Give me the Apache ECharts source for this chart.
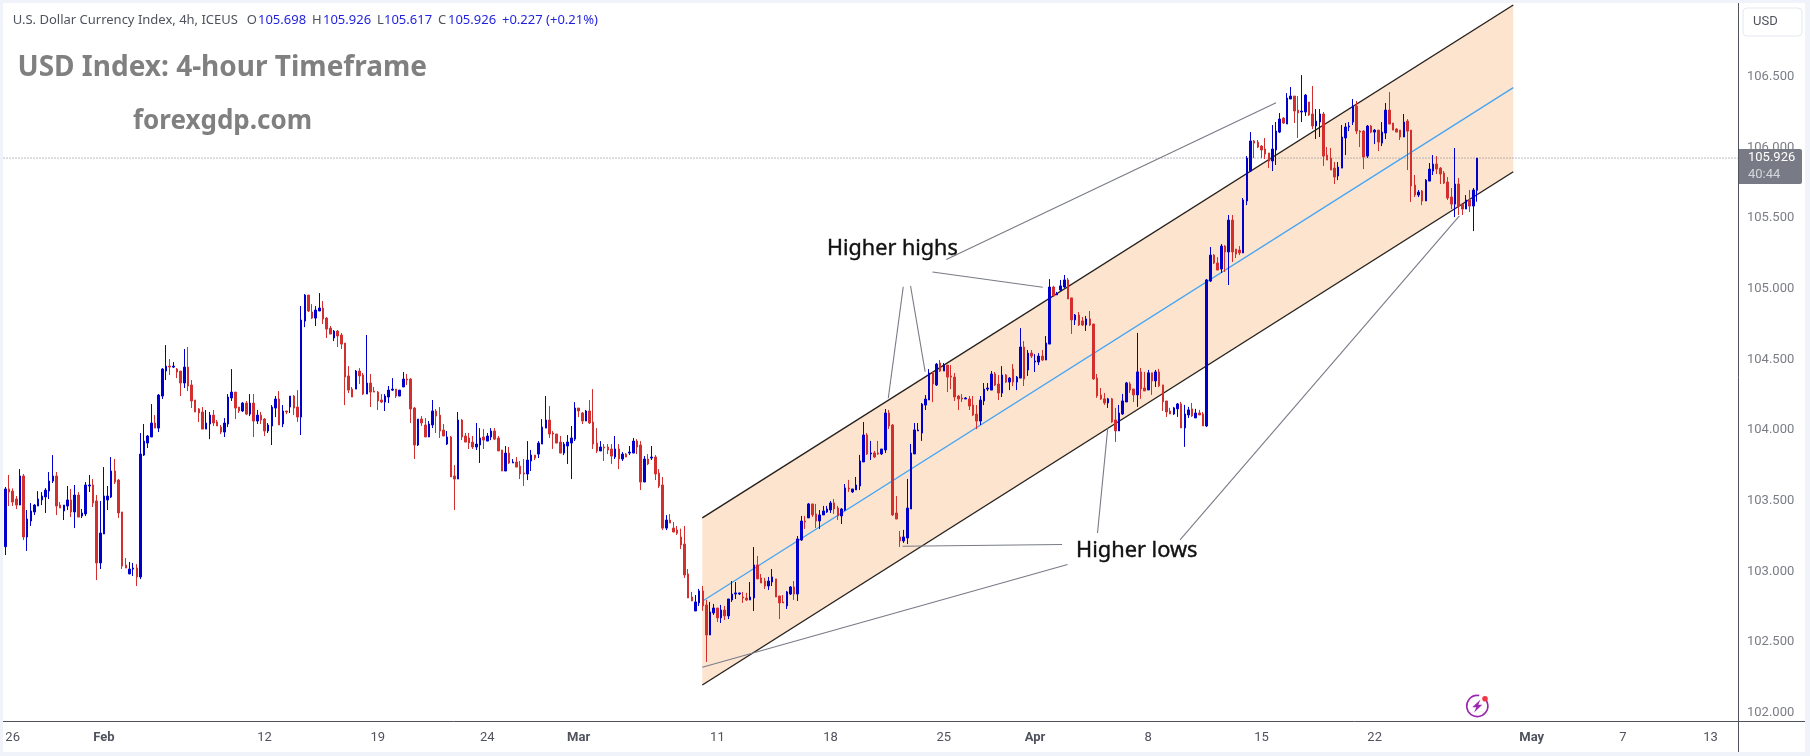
<!DOCTYPE html>
<html>
<head>
<meta charset="utf-8">
<title>USD Index 4-hour</title>
<style>
html,body{margin:0;padding:0;background:#fff;}
#chart{width:1810px;height:756px;}
</style>
<script src="https://cdn.jsdelivr.net/npm/echarts@6/dist/echarts.min.js"></script>
</head>
<body>
<div id="chart"></div>
<script>
// 4-hour candles of the U.S. Dollar Currency Index
const opens = [
103.174,103.583,103.568,103.512,103.469,103.675,103.243,103.356,103.420,103.462,
103.505,103.526,103.568,103.639,103.675,103.469,103.427,103.462,103.505,103.420,
103.540,103.391,103.406,103.604,103.611,103.498,103.059,103.264,103.505,103.526,
103.710,103.646,103.420,103.044,102.981,103.016,103.023,102.960,103.823,103.908,
103.951,104.050,104.014,104.241,104.418,104.453,104.446,104.432,104.418,104.333,
104.446,104.319,104.213,104.149,104.128,104.007,104.043,104.106,104.057,104.021,
103.986,104.043,104.227,104.269,104.163,104.135,104.191,104.113,104.191,104.064,
104.106,104.078,103.993,104.029,104.156,104.220,104.043,104.135,104.163,104.241,
104.163,104.092,104.772,104.956,104.836,104.793,104.843,104.864,104.793,104.722,
104.652,104.701,104.673,104.616,104.383,104.290,104.290,104.418,104.390,104.255,
104.333,104.276,104.269,104.213,104.198,104.234,104.283,104.290,104.241,104.305,
104.361,104.361,104.156,103.894,104.078,104.036,103.951,104.036,104.135,104.106,
104.000,103.901,103.951,103.675,103.653,104.071,103.958,103.944,103.915,103.880,
103.894,103.951,103.922,103.951,103.993,103.944,103.859,103.710,103.837,103.767,
103.774,103.745,103.696,103.689,103.781,103.823,103.830,103.901,104.014,104.071,
103.979,103.972,103.915,103.837,103.887,103.908,103.936,104.156,104.121,104.064,
104.135,104.057,103.908,103.852,103.880,103.880,103.866,103.809,103.866,103.795,
103.830,103.837,103.837,103.922,103.894,103.632,103.795,103.802,103.809,103.696,
103.611,103.306,103.363,103.306,103.292,103.243,103.193,102.981,102.818,102.719,
102.776,102.861,102.762,102.549,102.705,102.740,102.670,102.726,102.684,102.797,
102.839,102.839,102.818,102.811,102.797,102.811,103.045,102.953,102.931,102.896,
102.924,102.946,102.825,102.783,102.755,102.839,102.889,102.839,103.222,103.356,
103.378,103.477,103.406,103.356,103.399,103.420,103.434,103.484,103.448,103.392,
103.434,103.590,103.562,103.576,103.604,103.774,103.965,103.831,103.838,103.838,
103.831,103.859,104.121,104.036,103.413,103.243,103.215,103.236,103.441,103.831,
103.994,103.979,104.177,104.213,104.404,104.319,104.475,104.418,104.460,104.383,
104.375,104.241,104.227,104.220,104.220,104.177,104.113,104.064,104.206,104.290,
104.283,104.397,104.326,104.262,104.390,104.340,104.432,104.340,104.368,104.588,
104.425,104.545,104.482,104.482,104.524,104.496,104.609,105.013,104.957,104.992,
105.013,105.063,104.936,104.780,104.815,104.773,104.744,104.787,104.751,104.369,
104.249,104.221,104.192,104.221,104.072,103.994,104.114,104.199,104.327,104.291,
104.249,104.412,104.298,104.284,104.405,104.348,104.412,104.320,104.206,104.135,
104.114,104.150,104.185,104.015,104.107,104.150,104.086,104.121,104.114,104.029,
105.055,105.239,105.183,105.140,105.303,105.261,105.487,105.282,105.275,105.254,
105.622,105.834,106.047,106.039,106.011,105.990,105.962,105.905,105.983,106.110,
106.209,106.167,106.344,106.365,106.266,106.252,106.252,106.323,106.238,106.153,
106.181,106.238,105.947,105.926,105.855,105.799,105.855,106.068,106.146,106.181,
106.294,106.117,106.117,105.940,106.153,106.110,106.124,106.032,106.103,106.266,
106.174,106.131,106.124,106.075,106.188,106.124,105.735,105.664,105.693,105.622,
105.763,105.834,105.884,105.855,105.820,105.756,105.650,105.600,105.742,105.600,
105.565,105.629,105.586,105.698];
const closes = [
103.583,103.561,103.490,103.469,103.675,103.243,103.370,103.427,103.469,103.512,
103.533,103.575,103.639,103.675,103.462,103.448,103.469,103.505,103.420,103.540,
103.384,103.413,103.611,103.611,103.483,103.059,103.271,103.533,103.533,103.710,
103.632,103.413,103.037,103.023,103.016,103.023,102.960,103.830,103.922,103.958,
104.050,104.014,104.248,104.432,104.453,104.446,104.453,104.411,104.333,104.446,
104.312,104.206,104.128,104.121,104.007,104.050,104.106,104.050,104.029,103.986,
104.050,104.234,104.269,104.156,104.135,104.191,104.113,104.191,104.064,104.106,
104.071,103.993,104.036,104.163,104.220,104.036,104.135,104.128,104.241,104.156,
104.092,104.779,104.956,104.843,104.793,104.850,104.864,104.786,104.715,104.680,
104.701,104.666,104.609,104.375,104.283,104.234,104.418,104.383,104.255,104.333,
104.269,104.269,104.206,104.198,104.241,104.283,104.290,104.241,104.283,104.361,
104.354,104.149,103.894,104.078,104.050,103.951,104.043,104.135,104.099,103.993,
103.958,103.951,103.668,103.653,104.071,103.951,103.915,103.908,103.880,103.901,
103.944,103.929,103.958,103.993,103.936,103.852,103.710,103.837,103.767,103.774,
103.738,103.689,103.689,103.788,103.823,103.802,103.908,104.021,104.071,103.972,
103.972,103.908,103.837,103.901,103.915,103.944,104.156,104.135,104.064,104.135,
104.050,103.901,103.852,103.880,103.873,103.859,103.816,103.866,103.795,103.830,
103.809,103.844,103.922,103.880,103.632,103.795,103.760,103.809,103.689,103.604,
103.306,103.363,103.342,103.278,103.269,103.186,102.974,102.811,102.790,102.783,
102.861,102.755,102.549,102.712,102.740,102.670,102.726,102.684,102.804,102.839,
102.847,102.847,102.811,102.797,102.818,103.045,102.946,102.917,102.896,102.931,
102.960,102.818,102.776,102.776,102.854,102.889,102.839,103.229,103.356,103.349,
103.477,103.399,103.356,103.399,103.427,103.441,103.484,103.441,103.392,103.441,
103.590,103.583,103.583,103.611,103.781,103.965,103.831,103.838,103.809,103.831,
103.866,104.121,104.029,103.399,103.370,103.215,103.243,103.448,103.838,104.001,
104.001,104.184,104.220,104.404,104.326,104.467,104.418,104.460,104.375,104.375,
104.234,104.220,104.220,104.227,104.170,104.106,104.064,104.213,104.290,104.298,
104.397,104.319,104.262,104.390,104.340,104.368,104.340,104.375,104.588,104.361,
104.545,104.524,104.489,104.524,104.496,104.616,105.013,104.950,104.964,105.021,
105.063,104.928,104.780,104.815,104.744,104.744,104.787,104.744,104.362,104.242,
104.221,104.192,104.221,104.058,103.994,104.121,104.206,104.334,104.284,104.249,
104.412,104.291,104.277,104.405,104.348,104.412,104.313,104.199,104.128,104.114,
104.157,104.185,104.015,104.114,104.143,104.100,104.121,104.107,104.029,105.063,
105.239,105.183,105.133,105.303,105.261,105.487,105.261,105.246,105.254,105.629,
105.926,106.047,106.032,106.004,105.983,105.954,105.905,105.990,106.117,106.202,
106.174,106.351,106.365,106.259,106.245,106.259,106.372,106.231,106.153,106.188,
106.238,105.940,105.912,105.841,105.792,105.862,106.075,106.146,106.153,106.294,
106.117,106.110,105.933,106.153,106.110,106.124,106.039,106.110,106.266,106.167,
106.124,106.110,106.075,106.181,106.117,105.728,105.664,105.685,105.622,105.770,
105.848,105.884,105.848,105.813,105.749,105.643,105.600,105.742,105.586,105.565,
105.629,105.586,105.700,105.926];
const highs = [
103.597,103.682,103.587,103.533,103.724,103.689,103.434,103.483,103.476,103.568,
103.561,103.589,103.703,103.823,103.703,103.490,103.469,103.604,103.583,103.611,
103.561,103.441,103.632,103.682,103.653,103.540,103.498,103.738,103.604,103.809,
103.795,103.653,103.420,103.094,103.066,103.059,103.051,103.979,104.043,103.965,
104.184,104.106,104.255,104.439,104.602,104.503,104.482,104.439,104.418,104.574,
104.588,104.354,104.213,104.156,104.163,104.142,104.128,104.142,104.071,104.036,
104.085,104.255,104.432,104.269,104.163,104.198,104.206,104.255,104.255,104.142,
104.128,104.085,104.050,104.177,104.241,104.276,104.177,104.135,104.241,104.248,
104.283,104.878,104.963,104.956,104.892,104.878,104.970,104.914,104.800,104.737,
104.708,104.708,104.687,104.616,104.453,104.305,104.425,104.439,104.404,104.673,
104.397,104.305,104.276,104.255,104.255,104.312,104.368,104.290,104.283,104.411,
104.397,104.368,104.163,104.078,104.099,104.085,104.064,104.213,104.149,104.163,
104.043,103.993,103.958,103.752,104.128,104.078,103.979,103.979,103.958,104.050,
104.014,104.007,103.979,104.014,104.014,103.958,103.859,103.887,103.880,103.795,
103.809,103.781,103.795,103.922,103.859,103.823,103.922,104.078,104.241,104.170,
103.993,103.972,103.958,103.915,103.965,104.029,104.198,104.156,104.128,104.142,
104.213,104.290,104.014,103.922,103.901,103.901,103.901,103.958,103.901,103.844,
103.837,103.887,103.944,103.936,103.922,103.816,103.830,103.887,103.823,103.724,
103.668,103.398,103.405,103.349,103.321,103.302,103.321,103.016,102.854,102.832,
102.875,102.896,102.797,102.783,102.769,102.740,102.762,102.755,102.804,102.931,
102.924,102.847,102.854,102.847,102.924,103.172,103.108,102.981,102.953,102.960,
103.016,102.946,102.825,102.832,102.861,102.896,102.931,103.250,103.392,103.392,
103.484,103.477,103.477,103.434,103.463,103.463,103.498,103.512,103.463,103.448,
103.618,103.647,103.583,103.668,103.824,104.057,103.979,103.923,103.852,103.923,
103.866,104.149,104.142,104.043,103.533,103.286,103.293,103.654,103.902,104.050,
104.050,104.191,104.248,104.432,104.411,104.475,104.496,104.475,104.460,104.460,
104.404,104.248,104.255,104.234,104.241,104.241,104.177,104.241,104.333,104.333,
104.418,104.411,104.390,104.453,104.397,104.375,104.467,104.383,104.722,104.630,
104.567,104.567,104.538,104.545,104.567,104.666,105.069,105.021,104.978,105.063,
105.098,105.077,104.936,104.822,104.836,104.801,104.808,104.843,104.751,104.397,
104.298,104.263,104.228,104.228,104.157,104.178,104.256,104.341,104.341,104.291,
104.688,104.440,104.412,104.426,104.405,104.426,104.433,104.320,104.206,104.157,
104.164,104.192,104.199,104.178,104.164,104.192,104.150,104.143,104.128,105.070,
105.296,105.246,105.225,105.317,105.310,105.523,105.523,105.282,105.303,105.643,
105.940,106.110,106.054,106.054,106.018,106.068,105.962,106.160,106.181,106.245,
106.216,106.386,106.429,106.365,106.365,106.514,106.379,106.323,106.436,106.273,
106.273,106.252,106.004,105.997,105.898,105.898,106.160,106.174,106.181,106.344,
106.330,106.124,106.124,106.160,106.160,106.131,106.124,106.181,106.316,106.393,
106.174,106.139,106.124,106.238,106.202,106.124,105.806,105.700,105.700,105.777,
105.891,105.947,105.940,105.862,105.834,105.792,105.714,105.997,105.785,105.600,
105.664,105.700,105.714,105.926];
const lows = [
103.115,103.462,103.462,103.441,103.469,103.221,103.144,103.321,103.398,103.462,
103.469,103.413,103.512,103.625,103.398,103.448,103.363,103.434,103.384,103.306,
103.384,103.377,103.391,103.561,103.455,102.938,103.016,103.264,103.434,103.519,
103.618,103.377,103.016,103.023,102.981,102.967,102.896,102.945,103.816,103.873,
103.951,104.014,103.986,104.220,104.354,104.390,104.439,104.368,104.241,104.298,
104.276,104.156,104.128,104.057,104.007,104.007,103.936,104.029,104.029,103.972,
103.951,104.021,104.206,104.078,104.121,104.128,104.106,104.099,103.951,104.043,
104.043,103.958,103.979,103.894,104.092,104.036,104.021,104.113,104.121,104.106,
104.057,103.965,104.729,104.836,104.786,104.737,104.843,104.751,104.652,104.680,
104.630,104.588,104.574,104.177,104.262,104.234,104.290,104.326,104.248,104.255,
104.163,104.269,104.142,104.191,104.135,104.191,104.276,104.227,104.241,104.305,
104.319,104.050,103.795,103.887,104.029,103.951,103.951,104.014,103.979,103.944,
103.958,103.894,103.668,103.434,103.653,103.929,103.915,103.866,103.866,103.859,
103.767,103.866,103.922,103.929,103.929,103.852,103.710,103.710,103.760,103.767,
103.738,103.653,103.604,103.646,103.710,103.788,103.802,103.901,104.014,103.944,
103.866,103.908,103.837,103.823,103.760,103.653,103.922,104.092,104.043,104.064,
104.043,103.866,103.837,103.852,103.781,103.830,103.760,103.795,103.724,103.781,
103.809,103.823,103.837,103.830,103.575,103.632,103.752,103.788,103.646,103.589,
103.292,103.292,103.342,103.278,103.257,103.158,102.953,102.811,102.790,102.719,
102.755,102.721,102.358,102.549,102.691,102.641,102.634,102.655,102.662,102.783,
102.804,102.832,102.776,102.790,102.797,102.719,102.946,102.917,102.875,102.868,
102.896,102.818,102.662,102.776,102.733,102.832,102.797,102.790,103.215,103.300,
103.378,103.385,103.307,103.300,103.399,103.413,103.413,103.406,103.363,103.335,
103.427,103.562,103.555,103.576,103.576,103.774,103.824,103.788,103.802,103.824,
103.824,103.838,104.008,103.392,103.370,103.172,103.201,103.193,103.441,103.831,
103.994,103.923,104.142,104.213,104.198,104.312,104.411,104.418,104.269,104.290,
104.206,104.142,104.198,104.220,104.142,104.099,104.007,104.036,104.177,104.276,
104.283,104.312,104.213,104.234,104.333,104.283,104.312,104.283,104.368,104.312,
104.383,104.510,104.411,104.460,104.489,104.496,104.609,104.943,104.957,104.985,
105.006,104.928,104.681,104.744,104.737,104.737,104.702,104.737,104.355,104.228,
104.213,104.178,104.157,104.051,103.916,103.994,104.107,104.199,104.263,104.199,
104.164,104.221,104.277,104.284,104.249,104.305,104.305,104.135,104.093,104.114,
104.107,104.093,104.015,103.881,104.086,104.093,104.086,104.107,104.029,104.022,
105.048,105.176,105.133,105.112,105.119,105.027,105.190,105.218,105.239,105.254,
105.593,105.827,105.926,105.997,105.926,105.919,105.855,105.834,105.877,106.103,
106.167,106.167,106.344,106.174,106.068,106.181,106.224,106.224,106.131,106.061,
106.075,105.870,105.912,105.841,105.742,105.770,105.855,105.947,106.117,106.160,
106.096,106.004,105.848,105.926,106.103,106.025,105.976,106.011,106.061,106.167,
106.124,106.110,106.054,106.075,105.841,105.615,105.650,105.650,105.593,105.622,
105.763,105.806,105.813,105.742,105.742,105.629,105.565,105.508,105.523,105.523,
105.565,105.544,105.409,105.617];

// Time axis: label text and the bar slot each label sits on
const slotCount = 475;
const tickSlots = [2,27,71,102,132,157,195,226,257,282,313,344,375,418,443,467];
const tickLabels = ['26','Feb','12','19','24','Mar','11','18','25','Apr','8','15','22','May','7','13'];
const monthLabels = ['Feb','Mar','Apr','May'];
const priceTicks = [102,102.5,103,103.5,104,104.5,105,105.5,106,106.5];

// Rising channel, in bar slots and prices
const channelSlots = [190.87,412.96];
const channelUpper = [103.378,107.010];
const channelMiddle = [102.788,106.425];
const channelLower = [102.195,105.829];

// Callout leaders: slot, price, slot, price
const higherHighLeaders = [
  [257.7,105.207,348.0,106.318],
  [253.9,105.119,284.1,105.011],
  [245.9,105.015,241.8,104.225],
  [247.9,105.020,251.9,104.413]
];
const higherLowLeaders = [
  [245.7,103.177,289.4,103.190],
  [190.87,102.321,290.9,103.048],
  [301.9,104.013,299.1,103.271],
  [398.2,105.516,321.7,103.222]
];

const lastClose = closes[closes.length - 1];

const categories = Array.from({length: slotCount}, () => '');
tickSlots.forEach((s, i) => { categories[s] = tickLabels[i]; });

const candleData = opens.map((o, i) => [o, closes[i], lows[i], highs[i]]);

const AXIS = '#50535e';
const GUIDE = '#787b86';
const FONT = 'Roboto, "Noto Sans", sans-serif';
const HEAD_FONT = '13px "Noto Sans", sans-serif';
const SYMBOL_BLUE = '#1f1fe0';

function segmentSeries(name, seg, color, width) {
  return {
    name, type: 'line', xAxisIndex: 1, yAxisIndex: 0, symbol: 'none', z: 2, silent: true,
    lineStyle: {color, width}, data: [[seg[0], seg[1]], [seg[2], seg[3]]]
  };
}

const series = [
  {
    name: 'channel', type: 'custom', xAxisIndex: 1, yAxisIndex: 0, z: 1, silent: true,
    data: [[channelSlots[0], channelUpper[0], channelLower[0], channelSlots[1], channelUpper[1], channelLower[1]]],
    encode: {x: [0, 3], y: [1, 2, 4, 5]},
    renderItem(params, api) {
      const a = api.coord([api.value(0), api.value(1)]);
      const b = api.coord([api.value(3), api.value(4)]);
      const c = api.coord([api.value(3), api.value(5)]);
      const d = api.coord([api.value(0), api.value(2)]);
      return {type: 'polygon', shape: {points: [a, b, c, d]}, style: {fill: '#fde4cf'}};
    }
  },
  segmentSeries('channel upper', [channelSlots[0], channelUpper[0], channelSlots[1], channelUpper[1]], '#26201c', 1.4),
  segmentSeries('channel lower', [channelSlots[0], channelLower[0], channelSlots[1], channelLower[1]], '#26201c', 1.4),
  segmentSeries('channel middle', [channelSlots[0], channelMiddle[0], channelSlots[1], channelMiddle[1]], '#42a5f5', 1.3),
  segmentSeries('last price', [-0.5, lastClose, slotCount - 0.5, lastClose], GUIDE, 1),
  {
    name: 'USD Index', type: 'candlestick', xAxisIndex: 0, yAxisIndex: 0, z: 3, silent: true,
    barWidth: 2,
    itemStyle: {color: '#0000cd', borderColor: '#0000cd', color0: '#d32f2f', borderColor0: '#d32f2f', borderWidth: 1},
    data: candleData
  }
];
series[4].lineStyle.type = [1, 2];
higherHighLeaders.concat(higherLowLeaders).forEach((seg, i) => {
  series.push(segmentSeries('leader ' + i, seg, GUIDE, 1.1));
});

const bolt = {
  type: 'group', x: 1477.3, y: 706, z: 30, children: [
    {type: 'arc', shape: {cx: 0, cy: 0, r: 10.6, startAngle: -0.9, endAngle: 4.9, clockwise: true},
     style: {stroke: '#9c27b0', lineWidth: 1.6, fill: null}},
    {type: 'polygon', shape: {points: [[3.2,-6.5],[-5,1.2],[-1,1.2],[-3.2,6.5],[5,-1.2],[1,-1.2]]}, style: {fill: '#9c27b0'}},
    {type: 'circle', shape: {cx: 7.7, cy: -7.3, r: 2.8}, style: {fill: '#f23645'}}
  ]
};

function headerPiece(text, x, fill) {
  return {type: 'text', z: 30, x, y: 20, style: {text, fill, font: HEAD_FONT, verticalAlign: 'middle', align: 'left'}};
}

const edge = '#f0f3fa';
const graphic = [
  {type: 'rect', z: 40, shape: {x: 0, y: 0, width: 1810, height: 3}, style: {fill: edge}},
  {type: 'rect', z: 40, shape: {x: 0, y: 752, width: 1810, height: 4}, style: {fill: edge}},
  {type: 'rect', z: 40, shape: {x: 0, y: 0, width: 3, height: 756}, style: {fill: edge}},
  {type: 'rect', z: 40, shape: {x: 1805, y: 0, width: 5, height: 756}, style: {fill: edge}},
  {type: 'line', z: 35, shape: {x1: 3, y1: 721.5, x2: 1805, y2: 721.5}, style: {stroke: AXIS, lineWidth: 1}},
  {type: 'line', z: 35, shape: {x1: 1738.5, y1: 3, x2: 1738.5, y2: 752}, style: {stroke: AXIS, lineWidth: 1}},
  {type: 'rect', z: 30, shape: {x: 1743, y: 8, width: 59, height: 28, r: 4}, style: {fill: '#fff', stroke: '#e6e8ef', lineWidth: 1}},
  {type: 'text', z: 31, x: 1753, y: 22, style: {text: 'USD', fill: AXIS, font: '13px ' + FONT, verticalAlign: 'middle'}},
  headerPiece('U.S. Dollar Currency Index, 4h, ICEUS', 12.7, AXIS),
  headerPiece('O', 246.7, AXIS),
  headerPiece('105.698', 258, SYMBOL_BLUE),
  headerPiece('H', 312, AXIS),
  headerPiece('105.926', 323, SYMBOL_BLUE),
  headerPiece('L', 377, AXIS),
  headerPiece('105.617', 384, SYMBOL_BLUE),
  headerPiece('C', 438, AXIS),
  headerPiece('105.926', 448, SYMBOL_BLUE),
  headerPiece('+0.227 (+0.21%)', 502, SYMBOL_BLUE),
  {type: 'text', z: 30, x: 17.5, y: 68, style: {text: 'USD Index: 4-hour Timeframe', fill: '#808080', font: 'bold 28px "Noto Sans", sans-serif', verticalAlign: 'middle'}},
  {type: 'text', z: 30, x: 133, y: 122, style: {text: 'forexgdp.com', fill: '#808080', font: 'bold 26px "Noto Sans", sans-serif', verticalAlign: 'middle'}},
  {type: 'text', z: 30, x: 827, y: 249, style: {text: 'Higher highs', fill: '#111', stroke: '#111', lineWidth: 0.4, font: '21.6px "Noto Sans", sans-serif', verticalAlign: 'middle'}},
  {type: 'text', z: 30, x: 1076, y: 551, style: {text: 'Higher lows', fill: '#111', stroke: '#111', lineWidth: 0.4, font: '21.8px "Noto Sans", sans-serif', verticalAlign: 'middle'}},
  bolt
];

const rich = {
  month: {fontWeight: 'bold', color: AXIS, fontSize: 13, fontFamily: FONT},
  day: {color: AXIS, fontSize: 13, fontFamily: FONT}
};

const chart = echarts.init(document.getElementById('chart'), null, {renderer: 'canvas'});
chart.setOption({
  animation: false,
  backgroundColor: '#ffffff',
  grid: {left: 3.5, right: 72, top: 3, bottom: 35, containLabel: false},
  xAxis: [
    {
      type: 'category', data: categories, boundaryGap: true,
      axisLine: {show: false}, axisTick: {show: false}, splitLine: {show: false},
      axisLabel: {
        show: true, interval: 0, margin: 10, hideOverlap: false, rich,
        formatter: v => v === '' ? '' : (monthLabels.includes(v) ? '{month|' + v + '}' : '{day|' + v + '}')
      }
    },
    {type: 'value', show: false, min: -0.5, max: slotCount - 0.5, splitLine: {show: false}}
  ],
  yAxis: [{
    type: 'value', position: 'right', min: 101.94, max: 107.024, scale: true,
    axisLine: {show: false}, axisTick: {show: false}, splitLine: {show: false},
    axisLabel: {
      show: true, margin: 9, color: '#7a7d85', fontSize: 13, fontFamily: FONT,
      customValues: priceTicks, formatter: v => v.toFixed(3)
    }
  }],
  series,
  graphic
});

// Price tag follows the last close on the price scale
const tagY = chart.convertToPixel({yAxisIndex: 0}, lastClose);
chart.setOption({graphic: graphic.concat([
  {type: 'rect', z: 32, shape: {x: 1739, y: tagY - 9, width: 63, height: 35, r: [0, 2, 2, 0]}, style: {fill: '#787b86'}},
  {type: 'text', z: 33, x: 1748, y: tagY, style: {text: lastClose.toFixed(3), fill: '#ffffff', font: '13px ' + FONT, verticalAlign: 'middle'}},
  {type: 'text', z: 33, x: 1748, y: tagY + 17, style: {text: '40:44', fill: '#d4d6dc', font: '13px ' + FONT, verticalAlign: 'middle'}}
])});
</script>
</body>
</html>
